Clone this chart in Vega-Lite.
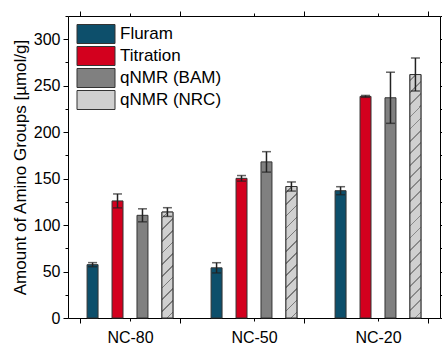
{
  "$schema": "https://vega.github.io/schema/vega-lite/v6.json",
  "width": 372,
  "height": 302,
  "autosize": {"type": "none"},
  "padding": {"left": 68, "top": 16, "right": 2, "bottom": 26},
  "background": "white",
  "config": {
    "view": {"stroke": null},
    "font": "Liberation Sans",
    "axis": {"domainColor": "#000", "tickColor": "#000", "labelColor": "#000", "titleColor": "#000", "grid": false, "labelFont": "Liberation Sans", "titleFont": "Liberation Sans", "domainWidth": 1, "tickWidth": 1}
  },
  "data": {
    "values": [
      {"group": "NC-80", "method": "Fluram", "value": 57.4, "lo": 55.2, "hi": 59.6},
      {"group": "NC-80", "method": "Titration", "value": 126, "lo": 118.5, "hi": 133.5},
      {"group": "NC-80", "method": "qNMR (BAM)", "value": 110.5, "lo": 103.5, "hi": 117.5},
      {"group": "NC-80", "method": "qNMR (NRC)", "value": 114, "lo": 109.3, "hi": 118.7},
      {"group": "NC-50", "method": "Fluram", "value": 54, "lo": 48.5, "hi": 59.5},
      {"group": "NC-50", "method": "Titration", "value": 150.3, "lo": 147.3, "hi": 153.3},
      {"group": "NC-50", "method": "qNMR (BAM)", "value": 168, "lo": 157, "hi": 179},
      {"group": "NC-50", "method": "qNMR (NRC)", "value": 141.5, "lo": 136.6, "hi": 146.4},
      {"group": "NC-20", "method": "Fluram", "value": 137, "lo": 132.7, "hi": 141.3},
      {"group": "NC-20", "method": "Titration", "value": 238.5, "lo": 237.5, "hi": 239.5},
      {"group": "NC-20", "method": "qNMR (BAM)", "value": 237, "lo": 209.5, "hi": 264.5},
      {"group": "NC-20", "method": "qNMR (NRC)", "value": 262, "lo": 244.3, "hi": 279.8}
    ]
  },
  "resolve": {"axis": {"x": "independent", "y": "independent"}},
  "layer": [
    {
      "mark": {"type": "bar", "stroke": "#333", "strokeWidth": 1, "opacity": 1},
      "encoding": {
        "x": {"field": "group", "type": "nominal", "sort": ["NC-80", "NC-50", "NC-20"],
          "scale": {"paddingInner": 0.195, "paddingOuter": 0.0975},
          "axis": {"orient": "bottom", "title": null, "labelAngle": 0, "labelFontSize": 16, "labelPadding": 6, "tickBand": "extent", "tickSize": 5, "domain": true}},
        "xOffset": {"field": "method", "type": "nominal", "sort": ["Fluram", "Titration", "qNMR (BAM)", "qNMR (NRC)"],
          "scale": {"paddingInner": 0.56, "paddingOuter": 0.28}},
        "y": {"field": "value", "type": "quantitative",
          "scale": {"domain": [0, 325], "nice": false, "zero": true},
          "axis": {"orient": "left", "title": "Amount of Amino Groups [µmol/g]", "values": [0, 50, 100, 150, 200, 250, 300], "labelFontSize": 16, "titleFontSize": 17, "titleFontWeight": "normal", "tickSize": 5, "labelPadding": 3, "titlePadding": 4, "domain": true}},
        "fill": {"field": "method", "type": "nominal",
          "scale": {"domain": ["Fluram", "Titration", "qNMR (BAM)", "qNMR (NRC)"], "range": ["#0d4f6b", "#d3001e", "#808080", "#cfcfcf"]},
          "legend": {"orient": "none", "legendX": 18, "legendY": 8, "title": null, "padding": 0,
            "symbolType": "M-2,-1H2V1H-2Z", "symbolSize": 361, "symbolStrokeColor": "#333", "symbolStrokeWidth": 1, "symbolOpacity": 1,
            "labelFontSize": 17, "labelFont": "Liberation Sans", "labelColor": "#000", "labelOffset": 14, "rowPadding": -3}}
      }
    },
    {
      "transform": [{"filter": "datum.method === 'qNMR (NRC)'"}],
      "mark": {"type": "bar", "stroke": "#333", "strokeWidth": 1},
      "encoding": {
        "x": {"field": "group", "type": "nominal", "sort": ["NC-80", "NC-50", "NC-20"],
          "axis": {"orient": "top", "title": null, "labels": false, "tickBand": "extent", "tickSize": 5, "domain": true}},
        "xOffset": {"field": "method", "type": "nominal", "sort": ["Fluram", "Titration", "qNMR (BAM)", "qNMR (NRC)"]},
        "y": {"field": "value", "type": "quantitative",
          "axis": {"orient": "right", "title": null, "labels": false, "values": [0, 50, 100, 150, 200, 250, 300], "tickSize": 5, "domain": true}},
        "fill": {
          "condition": [
            {"test": "datum.group === 'NC-80'", "value": {"gradient": "linear", "x1": 0, "y1": 0, "x2": 0.1134, "y2": 1.092, "stops": [
              {"offset": 0, "color": "#d0d0d0"},
              {"offset": 0.043, "color": "#d0d0d0"}, {"offset": 0.043, "color": "#7a7a7a"}, {"offset": 0.057, "color": "#7a7a7a"}, {"offset": 0.057, "color": "#d0d0d0"},
              {"offset": 0.143, "color": "#d0d0d0"}, {"offset": 0.143, "color": "#7a7a7a"}, {"offset": 0.157, "color": "#7a7a7a"}, {"offset": 0.157, "color": "#d0d0d0"},
              {"offset": 0.243, "color": "#d0d0d0"}, {"offset": 0.243, "color": "#7a7a7a"}, {"offset": 0.257, "color": "#7a7a7a"}, {"offset": 0.257, "color": "#d0d0d0"},
              {"offset": 0.343, "color": "#d0d0d0"}, {"offset": 0.343, "color": "#7a7a7a"}, {"offset": 0.357, "color": "#7a7a7a"}, {"offset": 0.357, "color": "#d0d0d0"},
              {"offset": 0.443, "color": "#d0d0d0"}, {"offset": 0.443, "color": "#7a7a7a"}, {"offset": 0.457, "color": "#7a7a7a"}, {"offset": 0.457, "color": "#d0d0d0"},
              {"offset": 0.543, "color": "#d0d0d0"}, {"offset": 0.543, "color": "#7a7a7a"}, {"offset": 0.557, "color": "#7a7a7a"}, {"offset": 0.557, "color": "#d0d0d0"},
              {"offset": 0.643, "color": "#d0d0d0"}, {"offset": 0.643, "color": "#7a7a7a"}, {"offset": 0.657, "color": "#7a7a7a"}, {"offset": 0.657, "color": "#d0d0d0"},
              {"offset": 0.743, "color": "#d0d0d0"}, {"offset": 0.743, "color": "#7a7a7a"}, {"offset": 0.757, "color": "#7a7a7a"}, {"offset": 0.757, "color": "#d0d0d0"},
              {"offset": 0.843, "color": "#d0d0d0"}, {"offset": 0.843, "color": "#7a7a7a"}, {"offset": 0.857, "color": "#7a7a7a"}, {"offset": 0.857, "color": "#d0d0d0"},
              {"offset": 0.943, "color": "#d0d0d0"}, {"offset": 0.943, "color": "#7a7a7a"}, {"offset": 0.957, "color": "#7a7a7a"}, {"offset": 0.957, "color": "#d0d0d0"},
              {"offset": 1, "color": "#d0d0d0"}]}},
            {"test": "datum.group === 'NC-50'", "value": {"gradient": "linear", "x1": 0, "y1": 0, "x2": 0.09006, "y2": 1.0762, "stops": [
              {"offset": 0, "color": "#d0d0d0"},
              {"offset": 0.0357, "color": "#d0d0d0"}, {"offset": 0.0357, "color": "#7a7a7a"}, {"offset": 0.0477, "color": "#7a7a7a"}, {"offset": 0.0477, "color": "#d0d0d0"},
              {"offset": 0.119, "color": "#d0d0d0"}, {"offset": 0.119, "color": "#7a7a7a"}, {"offset": 0.131, "color": "#7a7a7a"}, {"offset": 0.131, "color": "#d0d0d0"},
              {"offset": 0.2023, "color": "#d0d0d0"}, {"offset": 0.2023, "color": "#7a7a7a"}, {"offset": 0.2143, "color": "#7a7a7a"}, {"offset": 0.2143, "color": "#d0d0d0"},
              {"offset": 0.2857, "color": "#d0d0d0"}, {"offset": 0.2857, "color": "#7a7a7a"}, {"offset": 0.2977, "color": "#7a7a7a"}, {"offset": 0.2977, "color": "#d0d0d0"},
              {"offset": 0.369, "color": "#d0d0d0"}, {"offset": 0.369, "color": "#7a7a7a"}, {"offset": 0.381, "color": "#7a7a7a"}, {"offset": 0.381, "color": "#d0d0d0"},
              {"offset": 0.4523, "color": "#d0d0d0"}, {"offset": 0.4523, "color": "#7a7a7a"}, {"offset": 0.4643, "color": "#7a7a7a"}, {"offset": 0.4643, "color": "#d0d0d0"},
              {"offset": 0.5357, "color": "#d0d0d0"}, {"offset": 0.5357, "color": "#7a7a7a"}, {"offset": 0.5477, "color": "#7a7a7a"}, {"offset": 0.5477, "color": "#d0d0d0"},
              {"offset": 0.619, "color": "#d0d0d0"}, {"offset": 0.619, "color": "#7a7a7a"}, {"offset": 0.631, "color": "#7a7a7a"}, {"offset": 0.631, "color": "#d0d0d0"},
              {"offset": 0.7023, "color": "#d0d0d0"}, {"offset": 0.7023, "color": "#7a7a7a"}, {"offset": 0.7143, "color": "#7a7a7a"}, {"offset": 0.7143, "color": "#d0d0d0"},
              {"offset": 0.7857, "color": "#d0d0d0"}, {"offset": 0.7857, "color": "#7a7a7a"}, {"offset": 0.7977, "color": "#7a7a7a"}, {"offset": 0.7977, "color": "#d0d0d0"},
              {"offset": 0.869, "color": "#d0d0d0"}, {"offset": 0.869, "color": "#7a7a7a"}, {"offset": 0.881, "color": "#7a7a7a"}, {"offset": 0.881, "color": "#d0d0d0"},
              {"offset": 0.9523, "color": "#d0d0d0"}, {"offset": 0.9523, "color": "#7a7a7a"}, {"offset": 0.9643, "color": "#7a7a7a"}, {"offset": 0.9643, "color": "#d0d0d0"},
              {"offset": 1, "color": "#d0d0d0"}]}}
          ],
          "value": {"gradient": "linear", "x1": 0, "y1": 0, "x2": 0.04714, "y2": 1.0432, "stops": [
            {"offset": 0, "color": "#d0d0d0"},
            {"offset": 0.0203, "color": "#d0d0d0"}, {"offset": 0.0203, "color": "#8a8a8a"}, {"offset": 0.0273, "color": "#8a8a8a"}, {"offset": 0.0273, "color": "#d0d0d0"},
            {"offset": 0.0679, "color": "#d0d0d0"}, {"offset": 0.0679, "color": "#8a8a8a"}, {"offset": 0.0749, "color": "#8a8a8a"}, {"offset": 0.0749, "color": "#d0d0d0"},
            {"offset": 0.1155, "color": "#d0d0d0"}, {"offset": 0.1155, "color": "#8a8a8a"}, {"offset": 0.1225, "color": "#8a8a8a"}, {"offset": 0.1225, "color": "#d0d0d0"},
            {"offset": 0.1632, "color": "#d0d0d0"}, {"offset": 0.1632, "color": "#8a8a8a"}, {"offset": 0.1702, "color": "#8a8a8a"}, {"offset": 0.1702, "color": "#d0d0d0"},
            {"offset": 0.2108, "color": "#d0d0d0"}, {"offset": 0.2108, "color": "#8a8a8a"}, {"offset": 0.2178, "color": "#8a8a8a"}, {"offset": 0.2178, "color": "#d0d0d0"},
            {"offset": 0.2584, "color": "#d0d0d0"}, {"offset": 0.2584, "color": "#8a8a8a"}, {"offset": 0.2654, "color": "#8a8a8a"}, {"offset": 0.2654, "color": "#d0d0d0"},
            {"offset": 0.306, "color": "#d0d0d0"}, {"offset": 0.306, "color": "#8a8a8a"}, {"offset": 0.313, "color": "#8a8a8a"}, {"offset": 0.313, "color": "#d0d0d0"},
            {"offset": 0.3536, "color": "#d0d0d0"}, {"offset": 0.3536, "color": "#8a8a8a"}, {"offset": 0.3606, "color": "#8a8a8a"}, {"offset": 0.3606, "color": "#d0d0d0"},
            {"offset": 0.4013, "color": "#d0d0d0"}, {"offset": 0.4013, "color": "#8a8a8a"}, {"offset": 0.4083, "color": "#8a8a8a"}, {"offset": 0.4083, "color": "#d0d0d0"},
            {"offset": 0.4489, "color": "#d0d0d0"}, {"offset": 0.4489, "color": "#8a8a8a"}, {"offset": 0.4559, "color": "#8a8a8a"}, {"offset": 0.4559, "color": "#d0d0d0"},
            {"offset": 0.4965, "color": "#d0d0d0"}, {"offset": 0.4965, "color": "#8a8a8a"}, {"offset": 0.5035, "color": "#8a8a8a"}, {"offset": 0.5035, "color": "#d0d0d0"},
            {"offset": 0.5441, "color": "#d0d0d0"}, {"offset": 0.5441, "color": "#8a8a8a"}, {"offset": 0.5511, "color": "#8a8a8a"}, {"offset": 0.5511, "color": "#d0d0d0"},
            {"offset": 0.5917, "color": "#d0d0d0"}, {"offset": 0.5917, "color": "#8a8a8a"}, {"offset": 0.5987, "color": "#8a8a8a"}, {"offset": 0.5987, "color": "#d0d0d0"},
            {"offset": 0.6394, "color": "#d0d0d0"}, {"offset": 0.6394, "color": "#8a8a8a"}, {"offset": 0.6464, "color": "#8a8a8a"}, {"offset": 0.6464, "color": "#d0d0d0"},
            {"offset": 0.687, "color": "#d0d0d0"}, {"offset": 0.687, "color": "#8a8a8a"}, {"offset": 0.694, "color": "#8a8a8a"}, {"offset": 0.694, "color": "#d0d0d0"},
            {"offset": 0.7346, "color": "#d0d0d0"}, {"offset": 0.7346, "color": "#8a8a8a"}, {"offset": 0.7416, "color": "#8a8a8a"}, {"offset": 0.7416, "color": "#d0d0d0"},
            {"offset": 0.7822, "color": "#d0d0d0"}, {"offset": 0.7822, "color": "#8a8a8a"}, {"offset": 0.7892, "color": "#8a8a8a"}, {"offset": 0.7892, "color": "#d0d0d0"},
            {"offset": 0.8298, "color": "#d0d0d0"}, {"offset": 0.8298, "color": "#8a8a8a"}, {"offset": 0.8368, "color": "#8a8a8a"}, {"offset": 0.8368, "color": "#d0d0d0"},
            {"offset": 0.8775, "color": "#d0d0d0"}, {"offset": 0.8775, "color": "#8a8a8a"}, {"offset": 0.8845, "color": "#8a8a8a"}, {"offset": 0.8845, "color": "#d0d0d0"},
            {"offset": 0.9251, "color": "#d0d0d0"}, {"offset": 0.9251, "color": "#8a8a8a"}, {"offset": 0.9321, "color": "#8a8a8a"}, {"offset": 0.9321, "color": "#d0d0d0"},
            {"offset": 0.9727, "color": "#d0d0d0"}, {"offset": 0.9727, "color": "#8a8a8a"}, {"offset": 0.9797, "color": "#8a8a8a"}, {"offset": 0.9797, "color": "#d0d0d0"},
            {"offset": 1, "color": "#d0d0d0"}]}
        }
      }
    },
    {
      "mark": {"type": "rule", "color": "#222", "strokeWidth": 1.5},
      "encoding": {
        "x": {"field": "group", "type": "nominal", "sort": ["NC-80", "NC-50", "NC-20"],
          "axis": {"orient": "bottom", "title": null, "labels": false, "tickBand": "center", "tickSize": 3, "domain": false}},
        "xOffset": {"field": "method", "type": "nominal", "sort": ["Fluram", "Titration", "qNMR (BAM)", "qNMR (NRC)"]},
        "y": {"field": "lo", "type": "quantitative",
          "axis": {"orient": "left", "title": null, "labels": false, "values": [25, 75, 125, 175, 225, 275, 325], "tickSize": 3, "domain": false}},
        "y2": {"field": "hi"}
      }
    },
    {
      "mark": {"type": "tick", "color": "#222", "thickness": 1.5, "size": 9},
      "encoding": {
        "x": {"field": "group", "type": "nominal", "sort": ["NC-80", "NC-50", "NC-20"],
          "axis": {"orient": "top", "title": null, "labels": false, "tickBand": "center", "tickSize": 3, "domain": false}},
        "xOffset": {"field": "method", "type": "nominal", "sort": ["Fluram", "Titration", "qNMR (BAM)", "qNMR (NRC)"]},
        "y": {"field": "hi", "type": "quantitative",
          "axis": {"orient": "right", "title": null, "labels": false, "values": [25, 75, 125, 175, 225, 275, 325], "tickSize": 3, "domain": false}}
      }
    },
    {
      "mark": {"type": "tick", "color": "#222", "thickness": 1.5, "size": 9},
      "encoding": {
        "x": {"field": "group", "type": "nominal", "sort": ["NC-80", "NC-50", "NC-20"], "axis": null},
        "xOffset": {"field": "method", "type": "nominal", "sort": ["Fluram", "Titration", "qNMR (BAM)", "qNMR (NRC)"]},
        "y": {"field": "lo", "type": "quantitative", "axis": null}
      }
    }
  ]
}
